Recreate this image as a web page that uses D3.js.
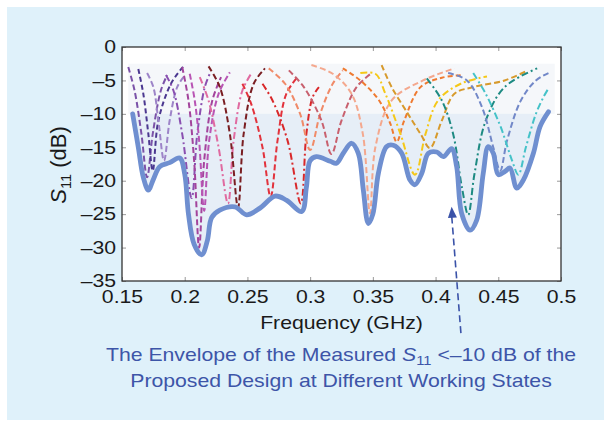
<!DOCTYPE html>
<html><head><meta charset="utf-8">
<script src="https://cdn.jsdelivr.net/npm/d3@7"></script>
<style>
body{margin:0;background:#fff;}
text{font-family:"Liberation Sans",Arial,Helvetica,sans-serif;}
</style>
</head><body>
<svg id="chart" width="604" height="421"></svg>
<script>
// ---- data ----
const xTicks = [0.15, 0.2, 0.25, 0.3, 0.35, 0.4, 0.45, 0.5];
const xTickLabels = ["0.15", "0.2", "0.25", "0.3", "0.35", "0.4", "0.45", "0.5"];
const yTicks = [0, -5, -10, -15, -20, -25, -30, -35];
const yTickLabels = ["0", "–5", "–10", "–15", "–20", "–25", "–30", "–35"];

const envelopeFreq = [0.1585,0.163,0.167,0.171,0.175,0.180,0.188,0.196,0.200,0.203,0.2075,0.2135,0.218,0.2215,0.228,0.240,0.2494,0.260,0.272,0.281,0.2933,0.297,0.300,0.305,0.316,0.321,0.3264,0.333,0.3384,0.3424,0.3464,0.350,0.3544,0.361,0.3663,0.373,0.3796,0.3836,0.389,0.3942,0.4009,0.4062,0.4128,0.4168,0.4208,0.4275,0.4328,0.438,0.442,0.446,0.450,0.4554,0.4593,0.4647,0.470,0.478,0.4833,0.490];
const envelopeS11 = [-10,-15,-19.5,-21.4,-19.8,-17.9,-17.3,-16.6,-19,-25,-29.5,-31.1,-29,-25.5,-24.4,-23.9,-25.1,-24.1,-22.3,-22.9,-24.6,-21,-17,-16.4,-17.1,-17.4,-15.9,-14.4,-15.9,-21.4,-26.4,-25,-18.9,-14.9,-14.7,-15.9,-19.9,-20.6,-18.9,-15.9,-15.7,-16.4,-15.2,-17.9,-24.9,-27.4,-25.9,-18.9,-14.9,-15.9,-19.1,-18.6,-18.1,-21.1,-19.9,-15.9,-11.9,-9.7];

// individual measured S11 curves (freq GHz, dB)
const stateCurves = [
  [[0.155,-3],[0.160,-6.5],[0.1655,-13],[0.170,-19.5],[0.1745,-13],[0.181,-6.5],[0.186,-4.2]],
  [[0.163,-3.3],[0.167,-7],[0.171,-13],[0.1745,-18.5],[0.179,-11],[0.189,-5.5],[0.199,-2.9]],
  [[0.170,-3.9],[0.175,-6],[0.179,-11],[0.1835,-17],[0.188,-11],[0.194,-6],[0.199,-4.5]],
  [[0.185,-4.2],[0.191,-6.5],[0.198,-13],[0.2055,-22.6],[0.210,-13],[0.216,-6],[0.220,-4]],
  [[0.198,-3],[0.203,-8],[0.2075,-17],[0.2115,-30],[0.2155,-17],[0.222,-8],[0.229,-4.5]],
  [[0.204,-4],[0.208,-8],[0.2115,-14],[0.2155,-24.5],[0.2195,-14],[0.227,-7],[0.236,-3.8]],
  [[0.212,-4.5],[0.219,-8],[0.227,-15],[0.2345,-23.4],[0.239,-14],[0.246,-6.5],[0.253,-4]],
  [[0.219,-2.9],[0.228,-6],[0.236,-13],[0.2425,-24],[0.247,-13],[0.255,-5.5],[0.264,-3.2]],
  [[0.246,-5.5],[0.253,-8.5],[0.262,-15],[0.2685,-22.4],[0.274,-14],[0.281,-7],[0.290,-4.5]],
  [[0.262,-5.5],[0.270,-8],[0.282,-14],[0.2925,-23.4],[0.297,-13],[0.302,-7.5],[0.307,-6]],
  [[0.267,-3.2],[0.280,-5.5],[0.292,-10],[0.300,-15.4],[0.308,-10],[0.318,-5.5],[0.326,-3.5]],
  [[0.283,-3.5],[0.295,-6],[0.309,-11],[0.317,-16],[0.325,-11],[0.337,-6],[0.349,-3.9]],
  [[0.301,-2.7],[0.318,-4],[0.333,-7],[0.342,-13],[0.3477,-24.9],[0.352,-15],[0.365,-8],[0.390,-5],[0.415,-3.2]],
  [[0.326,-3.2],[0.340,-5],[0.355,-8],[0.364,-11.5],[0.369,-14.2],[0.375,-11],[0.388,-6],[0.405,-4.6],[0.421,-4.2]],
  [[0.340,-3.9],[0.352,-4],[0.360,-7],[0.372,-13],[0.3836,-19.1],[0.392,-13],[0.402,-8],[0.420,-5.5],[0.441,-4.4]],
  [[0.357,-2.7],[0.365,-6],[0.378,-10],[0.388,-13],[0.3955,-15.1],[0.405,-11],[0.415,-7],[0.430,-6],[0.455,-5],[0.4725,-3.6]],
  [[0.393,-4.7],[0.405,-8],[0.414,-13],[0.421,-21],[0.426,-25.1],[0.431,-19],[0.440,-11],[0.455,-6],[0.481,-3.2]],
  [[0.410,-3.9],[0.425,-5],[0.437,-9],[0.446,-15],[0.4515,-18.5],[0.457,-14],[0.468,-8],[0.480,-5],[0.490,-3.9]],
  [[0.430,-3.9],[0.440,-7],[0.452,-12],[0.461,-17],[0.466,-19.1],[0.472,-15],[0.480,-10],[0.486,-7.5],[0.490,-6.2]]
];
const stateColors = ["#7b52a8","#4b3790","#9d84c8","#8a4fb0","#a3449c","#b854b4","#e06aa0","#7a1e22","#e2323c","#d9282a","#f08a68","#c8606e","#f4a88e","#ef7a30","#f5c818","#d79a2c","#1d8a82","#7288c8","#45c2c8"];
const stateDashes = ["6,3","5,3","6,3","7,3,2,3","6,3","6,3","7,3,2,3","6,3","6,3","7,3,2,3","6,3","6,3","6,3","5,3","7,3,2,3","6,3","7,3,2,3","6,3","7,3,2,3"];

// annotation arrow (freq, dB)
const arrowFrom = [0.4202, -42.8];
const arrowTo = [0.4128, -23.9];

// ---- drawing ----
const svg = d3.select("#chart");
const W = 604, H = 421;
const m = {left:122, right:561, top:47, bottom:281};
const SX = 1.18; // horizontal text stretch seen in the reference
const FS = 18;

svg.append("rect").attr("x",7).attr("y",7).attr("width",W-7).attr("height",H-8).attr("fill","#dff1fa");

const x = d3.scaleLinear().domain([0.15,0.5]).range([m.left,m.right]);
const y = d3.scaleLinear().domain([-35,0]).range([m.bottom,m.top]);

svg.append("rect").attr("x",m.left).attr("y",m.top).attr("width",m.right-m.left).attr("height",m.bottom-m.top).attr("fill","#fff");

// faint band above -10 dB
svg.append("rect").attr("x",x(0.155)).attr("y",y(-2.5)).attr("width",x(0.495)-x(0.155)).attr("height",y(-10)-y(-2.5)).attr("fill","#f5f7fa");

const env = envelopeFreq.map((f,i)=>[f,envelopeS11[i]]);
svg.append("path").datum(env)
  .attr("d", d3.area().x(d=>x(d[0])).y0(y(-10)).y1(d=>y(d[1])).curve(d3.curveCatmullRom.alpha(0.5)))
  .attr("fill","#e6eef7");

const line = d3.line().x(d=>x(d[0])).y(d=>y(d[1])).curve(d3.curveCatmullRom.alpha(0.5));
svg.append("g").selectAll("path").data(stateCurves).join("path")
  .attr("d", line)
  .attr("fill","none")
  .attr("stroke",(d,i)=>stateColors[i])
  .attr("stroke-width",2)
  .attr("stroke-dasharray",(d,i)=>stateDashes[i]);

svg.append("path").datum(env).attr("d", line)
  .attr("fill","none").attr("stroke","#6f8fd0").attr("stroke-width",4.8)
  .attr("stroke-linecap","round").attr("stroke-linejoin","round");

// axes (inward ticks)
const gx = svg.append("g").attr("transform",`translate(0,${m.bottom})`)
  .call(d3.axisBottom(x).tickValues(xTicks).tickSize(-4).tickPadding(9).tickFormat((d,i)=>xTickLabels[i]));
const gxt = svg.append("g").attr("transform",`translate(0,${m.top})`)
  .call(d3.axisTop(x).tickValues(xTicks).tickSize(-4).tickFormat(""));
const gy = svg.append("g").attr("transform",`translate(${m.left},0)`)
  .call(d3.axisLeft(y).tickValues(yTicks).tickSize(-4).tickPadding(5).tickFormat((d,i)=>yTickLabels[i]));
const gyr = svg.append("g").attr("transform",`translate(${m.right},0)`)
  .call(d3.axisRight(y).tickValues(yTicks).tickSize(-4).tickFormat(""));
[gx,gxt,gy,gyr].forEach(g=>{
  g.select(".domain").remove();
  g.selectAll(".tick line").attr("stroke","#999");
  g.selectAll(".tick text").attr("font-size",FS).attr("fill","#1a1a1a")
    .attr("font-family","'Liberation Sans',Arial,sans-serif")
    .attr("transform",`scale(${SX},1)`);
});

svg.append("rect").attr("x",m.left).attr("y",m.top).attr("width",m.right-m.left).attr("height",m.bottom-m.top)
  .attr("fill","none").attr("stroke","#333").attr("stroke-width",1.3);

// axis titles
svg.append("g").attr("transform",`translate(${(m.left+m.right)/2},329) scale(${SX},1)`)
  .append("text").attr("text-anchor","middle")
  .attr("font-size",FS).attr("fill","#1a1a1a").text("Frequency (GHz)");

const yl = svg.append("text").attr("transform","translate(66,165) rotate(-90)").attr("text-anchor","middle")
  .attr("font-size",22).attr("fill","#1a1a1a");
yl.append("tspan").attr("font-style","italic").text("S");
yl.append("tspan").attr("font-size",14.5).attr("dy",4.5).text("11");
yl.append("tspan").attr("dy",-4.5).text(" (dB)");

// annotation arrow
svg.append("line").attr("x1",x(arrowFrom[0])).attr("y1",y(arrowFrom[1])).attr("x2",x(arrowTo[0])).attr("y2",y(arrowTo[1])+8)
  .attr("stroke","#3a52a8").attr("stroke-width",1.6).attr("stroke-dasharray","7,4");
{
  const tx = x(arrowTo[0]), ty = y(arrowTo[1]);
  const ang = Math.atan2(y(arrowFrom[1])-ty, x(arrowFrom[0])-tx);
  const L = 11, wd = 4.5;
  const bx = tx + L*Math.cos(ang), by = ty + L*Math.sin(ang);
  const px = -Math.sin(ang)*wd, py = Math.cos(ang)*wd;
  svg.append("path").attr("d",`M${tx},${ty}L${bx+px},${by+py}L${bx-px},${by-py}Z`).attr("fill","#3a52a8");
}

// annotation text
const t1 = svg.append("g").attr("transform",`translate(341,361) scale(${SX},1)`)
  .append("text").attr("text-anchor","middle").attr("font-size",FS).attr("fill","#3d55a8");
t1.append("tspan").text("The Envelope of the Measured ");
t1.append("tspan").attr("font-style","italic").text("S");
t1.append("tspan").attr("font-size",12.5).attr("dy",4).text("11");
t1.append("tspan").attr("dy",-4).text(" <–10 dB of the");
svg.append("g").attr("transform",`translate(341,387) scale(${SX},1)`)
  .append("text").attr("text-anchor","middle").attr("font-size",FS).attr("fill","#3d55a8")
  .text("Proposed Design at Different Working States");
</script>
</body></html>
